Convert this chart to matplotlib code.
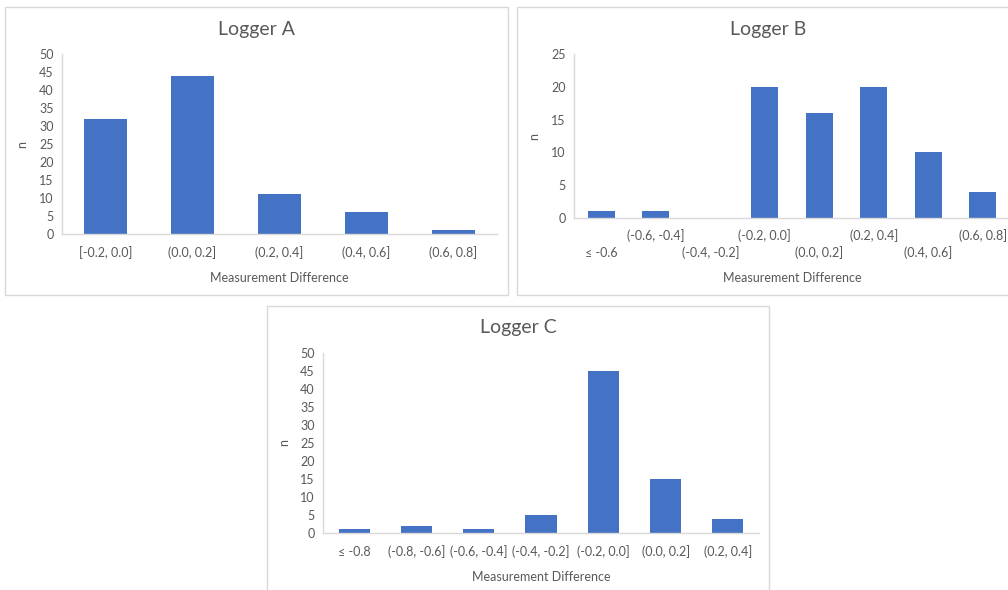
import matplotlib
matplotlib.use("Agg")
import matplotlib.pyplot as plt
from matplotlib.patches import Rectangle

plt.rcParams['font.family'] = ['Lato', 'DejaVu Sans']

# counts per bin for each logger
bins_a = ['[-0.2, 0.0]', '(0.0, 0.2]', '(0.2, 0.4]', '(0.4, 0.6]', '(0.6, 0.8]']
counts_a = [32, 44, 11, 6, 1]

bins_b = ['≤ -0.6', '(-0.6, -0.4]', '(-0.4, -0.2]', '(-0.2, 0.0]',
          '(0.0, 0.2]', '(0.2, 0.4]', '(0.4, 0.6]', '(0.6, 0.8]']
counts_b = [1, 1, 0, 20, 16, 20, 10, 4]

bins_c = ['≤ -0.8', '(-0.8, -0.6]', '(-0.6, -0.4]', '(-0.4, -0.2]',
          '(-0.2, 0.0]', '(0.0, 0.2]', '(0.2, 0.4]']
counts_c = [1, 2, 1, 5, 45, 15, 4]

W, H = 1008, 590
BAR = '#4472C4'
TXT = '#595959'
LINE = '#d9d9d9'

fig = plt.figure(figsize=(W / 100, H / 100), dpi=100)


def fx(x):
    return x / W


def fy(y):
    return 1 - y / H


def chart(frame, plot, title, bins, counts, ymax, stagger=False):
    # outer frame of the chart
    x0, y0, x1, y1 = frame
    fig.patches.append(Rectangle((fx(x0), fy(y1)), fx(x1 - x0), (y1 - y0) / H,
                                 transform=fig.transFigure, fill=False,
                                 ec=LINE, lw=1))
    px0, py0, px1, py1 = plot
    ax = fig.add_axes([fx(px0), fy(py1), fx(px1 - px0), (py1 - py0) / H])
    ax.bar(range(len(counts)), counts, width=0.5, color=BAR)
    ax.set_xlim(-0.5, len(counts) - 0.5)
    ax.set_ylim(0, ymax)
    ax.set_yticks(range(0, ymax + 1, 5))
    ax.tick_params(axis='y', length=0, pad=6, labelsize=9, labelcolor=TXT)
    ax.set_xticks([])
    for s in ['top', 'right']:
        ax.spines[s].set_visible(False)
    for s in ['left', 'bottom']:
        ax.spines[s].set_color(LINE)
        ax.spines[s].set_linewidth(1)
    ax.patch.set_alpha(0)

    h = py1 - py0
    for i, lab in enumerate(bins):
        off = 19
        if stagger:
            off = 35 if i % 2 == 0 else 18
        ax.text(i, -off / h, lab, transform=ax.get_xaxis_transform(),
                ha='center', va='center', fontsize=9, color=TXT)

    cx = (x0 + x1) / 2
    fig.text(fx(cx), fy(y0 + 22), title, ha='center', va='center',
             fontsize=14, color=TXT)
    fig.text(fx((px0 + px1) / 2), fy(py1 + 44 if not stagger else py1 + 60),
             'Measurement Difference', ha='center', va='center',
             fontsize=9, color=TXT)
    fig.text(fx(x0 + 17), fy((py0 + py1) / 2), 'n', rotation=90,
             ha='center', va='center', fontsize=9, color=TXT)
    return ax


chart((5, 7, 508, 295), (62, 54, 497, 234), 'Logger A', bins_a, counts_a, 50)
chart((517, 7, 1019, 295), (574, 54, 1010, 218), 'Logger B', bins_b, counts_b, 25,
      stagger=True)
chart((267, 306, 769, 600), (323, 353, 759, 533), 'Logger C', bins_c, counts_c, 50)

fig.savefig('out.png', dpi=100, facecolor='white')
